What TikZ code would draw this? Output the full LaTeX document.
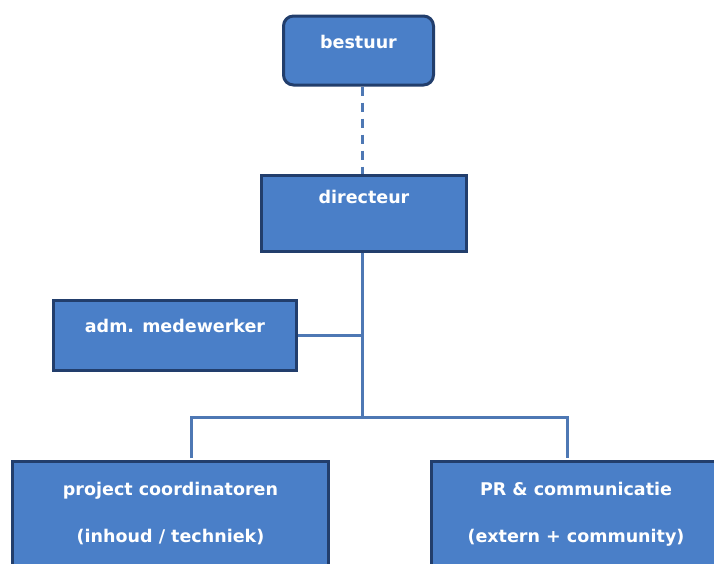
\documentclass[tikz,border=0pt]{standalone}
\usepackage{fontspec}
\setmainfont{DejaVu Sans}
\usepackage{tikz}

\definecolor{unitfill}{RGB}{74,127,200}
\definecolor{unitborder}{RGB}{34,62,108}
\definecolor{linkblue}{RGB}{78,120,180}

\begin{document}
\begin{tikzpicture}[x=1pt,y=-1pt,
        unit/.style={draw=unitborder,line width=3pt,fill=unitfill,text=white,anchor=north,inner xsep=0pt,inner ysep=0pt,font=\fontsize{17.5}{20}\selectfont\bfseries,align=center},
        link/.style={draw=linkblue,line width=3pt}]
        \useasboundingbox (0,0) rectangle (714,563);
        \clip (0,0) rectangle (714,563);

        \node[unit,rounded corners=10pt,minimum width=150pt,text height=32.5pt,text depth=36.5pt] (bestuur) at (358.5,14.5) {bestuur};
        \node[unit,minimum width=205pt,text height=28.5pt,text depth=47.5pt] (directeur) at (364,173.5) {directeur};
        \node[unit,minimum width=243pt,text height=32.5pt,text depth=37.5pt] (adm) at (175,298.5) {adm. medewerker};
        \node[unit,minimum width=316pt,text height=81.5pt,text depth=61pt] (coord) at (170.5,459.5) {project coordinatoren\\[27pt](inhoud / techniek)};
        \node[unit,minimum width=289pt,text height=81.5pt,text depth=61pt] (pr) at (576,459.5) {PR \& communicatie\\[27pt](extern + community)};

        \coordinate (split) at (362,417);
        \coordinate (coordtop) at (191,458);
        \coordinate (prtop) at (567,458);

	\path[link,dashed,dash pattern=on 9pt off 7pt] (bestuur.south -| split) edge (directeur.north -| split);
	\draw[link] (directeur.south -| split) -- (split);
	\draw[link] (adm.east) -- (adm.east -| split);
	\draw[link] (coordtop) |- (split) -| (prtop);
	\end{tikzpicture}
\end{document}
